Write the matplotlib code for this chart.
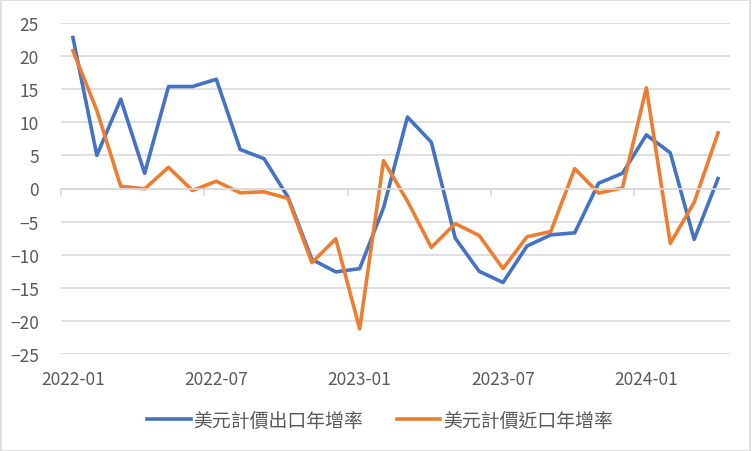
import matplotlib
matplotlib.use("Agg")
from matplotlib import pyplot as plt
from matplotlib.patches import Rectangle
import numpy as np

plt.rcParams['font.family'] = ['Noto Sans CJK TC', 'DejaVu Sans']

months = ['2022-01', '2022-02', '2022-03', '2022-04', '2022-05', '2022-06',
          '2022-07', '2022-08', '2022-09', '2022-10', '2022-11', '2022-12',
          '2023-01', '2023-02', '2023-03', '2023-04', '2023-05', '2023-06',
          '2023-07', '2023-08', '2023-09', '2023-10', '2023-11', '2023-12',
          '2024-01', '2024-02', '2024-03', '2024-04']
export_yoy = [22.8, 5.0, 13.5, 2.3, 15.4, 15.4, 16.5, 5.9, 4.5, -1.3, -10.7, -12.6,
              -12.1, -2.9, 10.8, 7.0, -7.5, -12.5, -14.2, -8.7, -7.0, -6.7, 0.8, 2.3,
              8.1, 5.4, -7.7, 1.5]
import_yoy = [20.8, 11.8, 0.35, -0.05, 3.2, -0.3, 1.1, -0.65, -0.5, -1.5, -11.2, -7.6,
              -21.2, 4.2, -1.9, -8.9, -5.3, -7.1, -12.1, -7.3, -6.5, 3.0, -0.7, 0.1,
              15.2, -8.3, -2.1, 8.4]
label_every = 6
series_names = ['美元計價出口年增率', '美元計價近口年增率']

text_color = '#595959'
grid_color = '#D9D9D9'

fig = plt.figure(figsize=(7.52, 4.52), dpi=100)
ax = fig.add_axes([61 / 752, 1 - 355 / 452, (730 - 61) / 752, (355 - 24) / 452])

x = np.arange(len(months))
ax.plot(x, export_yoy, color='#4472C4', lw=2.6, label=series_names[0], solid_joinstyle='round')
ax.plot(x, import_yoy, color='#ED7D31', lw=2.6, label=series_names[1], solid_joinstyle='round')

ax.set_xlim(-0.5, len(months) - 0.5)
ax.set_ylim(-25, 25)
ax.set_yticks(np.arange(-25, 26, 5))
ax.yaxis.grid(True, color=grid_color, lw=1.2)
ax.set_axisbelow(True)
ax.tick_params(axis='y', length=0, pad=16, labelsize=12.5, labelcolor=text_color)

for side in ['left', 'right', 'top']:
    ax.spines[side].set_visible(False)
ax.spines['bottom'].set_position(('data', 0))
ax.spines['bottom'].set_color(grid_color)
ax.spines['bottom'].set_linewidth(1.2)

ax.set_xticks(np.arange(-0.5, len(months), label_every))
ax.tick_params(axis='x', length=5, width=1.2, color=grid_color, labelbottom=False)
for i in range(0, len(months), label_every):
    ax.text(i, -0.075, months[i], transform=ax.get_xaxis_transform(),
            ha='center', va='center', fontsize=12.5, color=text_color)

leg = fig.legend(loc='center', bbox_to_anchor=(380 / 752, 1 - 421 / 452), ncol=2,
                 frameon=False, fontsize=13.6, handlelength=2.3, handletextpad=0.15,
                 columnspacing=1.75, labelcolor=text_color)

fig.patches.append(Rectangle((0.001, 0.001), 0.997, 0.997, transform=fig.transFigure,
                             fill=False, edgecolor=grid_color, lw=1.2))

fig.savefig('out.png', dpi=100)
